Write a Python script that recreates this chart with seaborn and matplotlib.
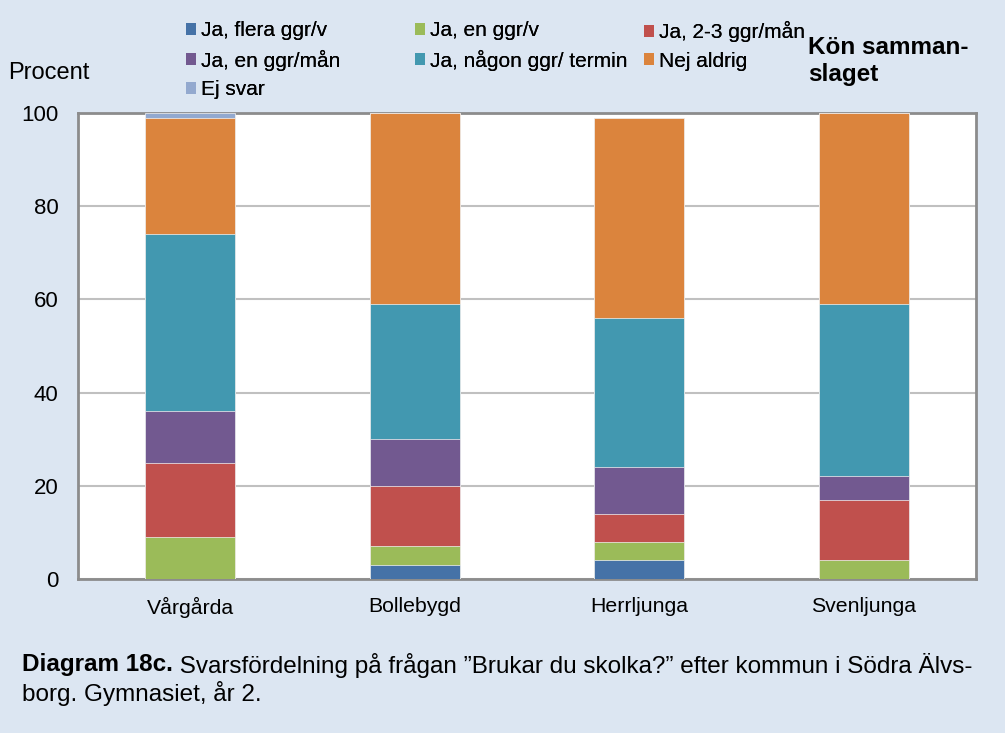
import matplotlib
matplotlib.use("Agg")
import matplotlib.pyplot as plt
import seaborn as sns
import pandas as pd
import numpy as np
from matplotlib.patches import Patch

categories = ["Vårgårda", "Bollebygd", "Herrljunga", "Svenljunga"]
series_names = ["Ja, flera ggr/v", "Ja, en ggr/v", "Ja, 2-3 ggr/mån",
                "Ja, en ggr/mån", "Ja, någon ggr/ termin", "Nej aldrig", "Ej svar"]
flera_ggr_v = [0, 3, 4, 0]
en_ggr_v = [9, 4, 4, 4]
tva_tre_ggr_man = [16, 13, 6, 13]
en_ggr_man = [11, 10, 10, 5]
nagon_ggr_termin = [38, 29, 32, 37]
nej_aldrig = [25, 41, 43, 41]
ej_svar = [1, 0, 0, 0]
colors = ["#4572a7", "#9bbb59", "#c0504d", "#725990", "#4298b0", "#db843d", "#93a9cf"]
yticks = [0, 20, 40, 60, 80, 100]

values = [flera_ggr_v, en_ggr_v, tva_tre_ggr_man, en_ggr_man, nagon_ggr_termin, nej_aldrig, ej_svar]

sns.set_theme(style="white")
plt.rcParams['font.family'] = ['Liberation Sans', 'DejaVu Sans']
plt.rcParams['text.color'] = 'black'
plt.rcParams['xtick.color'] = 'black'
plt.rcParams['ytick.color'] = 'black'
bg = "#dce6f2"

fig = plt.figure(figsize=(10.05, 7.33), dpi=100, facecolor=bg)
ax = fig.add_axes([0.0776, 0.2101, 0.8935, 0.6357])
ax.set_facecolor("white")

cum = np.cumsum(np.array(values, dtype=float), axis=0)
df = pd.DataFrame({"Kommun": categories})
for i in range(len(series_names) - 1, -1, -1):
    df["cum"] = cum[i]
    sns.barplot(data=df, x="Kommun", y="cum", color=colors[i], width=0.4,
                saturation=1, ax=ax, edgecolor="#f4f4f4", linewidth=0.5, zorder=3)

ax.set_ylim(0, 100)
ax.set_xlim(-0.5, 3.5)
ax.set_yticks(yticks)
ax.set_yticklabels([str(t) for t in yticks], fontsize=16)
ax.tick_params(axis="y", length=0, pad=14, labelcolor="black")
ax.tick_params(axis="x", length=0, pad=13, labelsize=15.3, labelcolor="black")
ax.set_xlabel("")
ax.set_ylabel("")
ax.yaxis.grid(True, color="#c0c0c0", linewidth=1.5, zorder=0)
ax.set_axisbelow(True)
for s in ax.spines.values():
    s.set_visible(True)
    s.set_color("#8c8c8c")
    s.set_linewidth(2)

fig.text(8 / 1005, 1 - 73 / 733, "Procent", fontsize=17, ha="left", va="center")

handles = [Patch(facecolor=colors[i], edgecolor="none", label=series_names[i]) for i in range(7)]
columns = [[0, 3, 6], [1, 4], [2, 5]]
col_x = [186, 415, 644]
for idx, xpos in zip(columns, col_x):
    leg = fig.legend([handles[i] for i in idx], [series_names[i] for i in idx],
                     ncol=1, loc="upper left", bbox_to_anchor=(xpos / 1005, 1 - 21 / 733),
                     frameon=False, fontsize=15, handlelength=0.5, handleheight=0.5,
                     handletextpad=0.2, labelspacing=0.46,
                     borderaxespad=0, borderpad=0)
    fig.add_artist(leg)

fig.text(808 / 1005, 1 - 48 / 733, "Kön samman-", fontsize=17.5, fontweight="bold",
         ha="left", va="center")
fig.text(808 / 1005, 1 - 75 / 733, "slaget", fontsize=17.5, fontweight="bold",
         ha="left", va="center")

t1 = fig.text(22 / 1005, 1 - 665 / 733, "Diagram 18c.", fontsize=17.5, fontweight="bold",
              ha="left", va="center")
fig.canvas.draw()
ax.annotate(" Svarsfördelning på frågan ”Brukar du skolka?” efter kommun i Södra Älvs-",
            xy=(1, 0.5), xycoords=t1, va="center", ha="left", fontsize=17.5,
            annotation_clip=False)
fig.text(22 / 1005, 1 - 693 / 733, "borg. Gymnasiet, år 2.", fontsize=17.5,
         ha="left", va="center")

fig.savefig("out.png", dpi=100, facecolor=bg)
